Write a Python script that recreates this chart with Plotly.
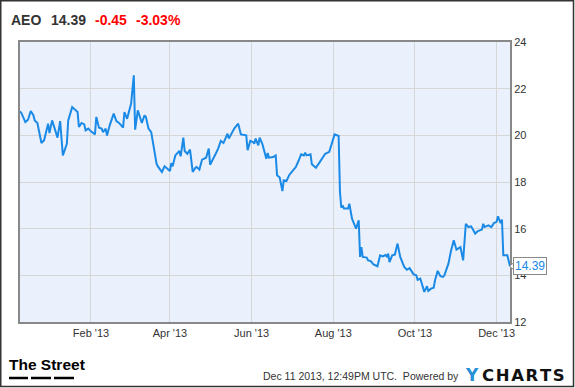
import plotly.graph_objects as go

# ---------------- data ----------------
dates = [
    "2012-12-10", "2012-12-11", "2012-12-14", "2012-12-16", "2012-12-18", "2012-12-20", "2012-12-21",
    "2012-12-23", "2012-12-26", "2012-12-28", "2012-12-31", "2013-01-01", "2013-01-03", "2013-01-05",
    "2013-01-07", "2013-01-09", "2013-01-11", "2013-01-14", "2013-01-15", "2013-01-18", "2013-01-22",
    "2013-01-23", "2013-01-25", "2013-01-27", "2013-01-28", "2013-01-30", "2013-02-01", "2013-02-04",
    "2013-02-05", "2013-02-07", "2013-02-09", "2013-02-10", "2013-02-12", "2013-02-13", "2013-02-15",
    "2013-02-18", "2013-02-20", "2013-02-22", "2013-02-25", "2013-02-26", "2013-02-28", "2013-03-03",
    "2013-03-05", "2013-03-06", "2013-03-08", "2013-03-11", "2013-03-13", "2013-03-14", "2013-03-16",
    "2013-03-18", "2013-03-20", "2013-03-22", "2013-03-23", "2013-03-26", "2013-03-28", "2013-03-31",
    "2013-04-01", "2013-04-02", "2013-04-03", "2013-04-05", "2013-04-08", "2013-04-09", "2013-04-11",
    "2013-04-12", "2013-04-14", "2013-04-16", "2013-04-18", "2013-04-20", "2013-04-21", "2013-04-23",
    "2013-04-25", "2013-04-28", "2013-04-30", "2013-05-01", "2013-05-03", "2013-05-05", "2013-05-07",
    "2013-05-09", "2013-05-11", "2013-05-13", "2013-05-14", "2013-05-15", "2013-05-17", "2013-05-19",
    "2013-05-22", "2013-05-24", "2013-05-28", "2013-05-29", "2013-05-31", "2013-06-02", "2013-06-03",
    "2013-06-04", "2013-06-06", "2013-06-07", "2013-06-09", "2013-06-12", "2013-06-13", "2013-06-14",
    "2013-06-17", "2013-06-19", "2013-06-20", "2013-06-22", "2013-06-24", "2013-06-25", "2013-06-27",
    "2013-06-29", "2013-07-01", "2013-07-04", "2013-07-06", "2013-07-08", "2013-07-10", "2013-07-11",
    "2013-07-12", "2013-07-15", "2013-07-16", "2013-07-19", "2013-07-22", "2013-07-26", "2013-07-29",
    "2013-07-31", "2013-08-02", "2013-08-05", "2013-08-06", "2013-08-07", "2013-08-08", "2013-08-09",
    "2013-08-12", "2013-08-13", "2013-08-15", "2013-08-17", "2013-08-18", "2013-08-20", "2013-08-21",
    "2013-08-22", "2013-08-23", "2013-08-26", "2013-08-27", "2013-08-29", "2013-08-31", "2013-09-03",
    "2013-09-05", "2013-09-07", "2013-09-09", "2013-09-10", "2013-09-11", "2013-09-12", "2013-09-14",
    "2013-09-16", "2013-09-18", "2013-09-20", "2013-09-23", "2013-09-25", "2013-09-27", "2013-09-30",
    "2013-10-02", "2013-10-03", "2013-10-05", "2013-10-06", "2013-10-08", "2013-10-10", "2013-10-11",
    "2013-10-13", "2013-10-15", "2013-10-16", "2013-10-18", "2013-10-20", "2013-10-22", "2013-10-23",
    "2013-10-26", "2013-10-28", "2013-10-30", "2013-11-01", "2013-11-04", "2013-11-06", "2013-11-08",
    "2013-11-10", "2013-11-12", "2013-11-15", "2013-11-17", "2013-11-20", "2013-11-21", "2013-11-22",
    "2013-11-25", "2013-11-27", "2013-11-29", "2013-12-01", "2013-12-02", "2013-12-04", "2013-12-05",
    "2013-12-06", "2013-12-09", "2013-12-11",
]
prices = [
    21.03, 20.96, 20.57, 20.67, 21.04, 20.86, 20.64,
    20.53, 19.67, 19.79, 20.50, 20.10, 20.64, 20.29,
    19.90, 20.61, 19.14, 19.64, 20.64, 21.21, 21.00,
    20.36, 20.53, 20.47, 20.21, 20.29, 20.17, 20.04,
    20.79, 20.33, 20.29, 20.14, 20.29, 19.99, 20.43,
    20.93, 20.61, 20.53, 20.33, 21.00, 20.71, 21.36,
    22.57, 20.24, 21.07, 20.53, 20.86, 20.79, 20.29,
    20.14, 19.43, 18.79, 18.67, 18.43, 18.67, 18.53,
    18.47, 18.81, 18.67, 19.14, 19.33, 19.10, 19.90,
    19.33, 19.21, 19.39, 18.43, 18.61, 18.64, 18.53,
    18.96, 19.04, 19.43, 18.74, 19.00, 19.19, 19.43,
    19.76, 19.67, 19.93, 20.07, 19.86, 20.10, 20.29,
    20.50, 20.04, 20.00, 19.36, 19.76, 19.71, 19.64,
    19.86, 19.57, 19.90, 19.64, 19.00, 19.24, 19.04,
    19.07, 19.14, 18.29, 18.19, 17.61, 18.07, 18.04,
    18.29, 18.43, 18.64, 18.90, 19.19, 19.14, 19.26,
    19.14, 19.19, 18.76, 18.61, 18.86, 19.21, 19.29,
    19.64, 20.04, 19.97, 17.57, 16.90, 17.00, 16.86,
    16.86, 17.07, 16.43, 16.14, 16.00, 16.36, 14.79,
    15.21, 14.79, 14.76, 14.64, 14.61, 14.47, 14.39,
    14.86, 14.81, 14.87, 14.81, 14.93, 14.57, 14.86,
    14.89, 15.36, 14.79, 14.36, 14.24, 14.31, 14.04,
    14.00, 13.81, 13.86, 13.67, 13.29, 13.53, 13.33,
    13.43, 13.47, 13.79, 14.19, 13.96, 13.93, 14.00,
    14.50, 15.07, 15.50, 15.10, 15.21, 14.64, 16.21,
    16.07, 16.10, 15.79, 15.90, 15.96, 16.21, 16.07,
    16.14, 16.07, 16.24, 16.29, 16.53, 16.24, 16.39,
    14.86, 14.86, 14.39,
]

x_tick_vals = ["2013-02-01", "2013-04-01", "2013-06-01", "2013-08-01", "2013-10-01", "2013-12-01"]
x_tick_text = ["Feb '13", "Apr '13", "Jun '13", "Aug '13", "Oct '13", "Dec '13"]
y_tick_vals = [12, 14, 16, 18, 20, 22, 24]

ticker = "AEO"
last_price = "14.39"
change = "-0.45"
change_pct = "-3.03%"
timestamp = "Dec 11 2013, 12:49PM UTC.  Powered by"
brand_left = "The Street"
brand_y = "Y"
brand_rest = "CHARTS"

# ---------------- layout helpers ----------------
W, H = 575, 388
ML, MR, MT, MB = 20, 65, 42, 66
PW, PH = W - ML - MR, H - MT - MB


def px(xp):
    return (xp - ML) / PW


def py(yp):
    return (H - MB - yp) / PH


FONT = "Liberation Sans, Arial, Helvetica, sans-serif"
LINE_BLUE = "#1a8ae6"
last_val = float(prices[-1])

fig = go.Figure()
fig.add_trace(go.Scatter(
    x=dates, y=prices, mode="lines",
    line=dict(color=LINE_BLUE, width=2),
    hoverinfo="skip", showlegend=False,
))

annotations = [
    dict(text="<b>" + ticker + "</b>", x=px(9), y=py(20), xanchor="left", yanchor="middle",
         font=dict(size=14, color="#333333", family=FONT)),
    dict(text="<b>" + last_price + "</b>", x=px(49), y=py(20), xanchor="left", yanchor="middle",
         font=dict(size=14, color="#333333", family=FONT)),
    dict(text="<b>" + change + "</b>", x=px(93), y=py(20), xanchor="left", yanchor="middle",
         font=dict(size=14, color="#ff0000", family=FONT)),
    dict(text="<b>" + change_pct + "</b>", x=px(134), y=py(20), xanchor="left", yanchor="middle",
         font=dict(size=14, color="#ff0000", family=FONT)),
    # last value label
    dict(text=last_price, x=px(513), y=last_val, yref="y", xanchor="left", yanchor="middle",
         font=dict(size=12, color=LINE_BLUE, family=FONT), bgcolor="#ffffff",
         bordercolor="#888888", borderwidth=1, borderpad=1),
    # footer
    dict(text="<b>" + brand_left + "</b>", x=px(7), y=py(364), xanchor="left", yanchor="middle",
         font=dict(size=15.5, color="#000000", family=FONT)),
    dict(text=timestamp, x=px(261), y=py(376), xanchor="left", yanchor="middle",
         font=dict(size=10.5, color="#333333", family=FONT)),
    dict(text="<b>" + brand_y + "</b>", x=px(463), y=py(375), xanchor="left", yanchor="middle",
         font=dict(size=17, color="#2590d8", family="DejaVu Sans, Arial, sans-serif")),
    dict(text="<b>" + "\u200a".join(brand_rest) + "</b>", x=px(480), y=py(375), xanchor="left", yanchor="middle",
         font=dict(size=16.5, color="#111111", family="DejaVu Sans, Arial, sans-serif")),
]
for a in annotations:
    a.setdefault("xref", "paper")
    a.setdefault("yref", "paper")
    a["showarrow"] = False

tri_half = 0.16
shapes = [
    # outer frame
    dict(type="rect", xref="paper", yref="paper", x0=px(0.75), x1=px(573.5), y0=py(386.5), y1=py(0.75),
         line=dict(color="#333333", width=1.5), fillcolor="rgba(0,0,0,0)", layer="above"),
    # The Street underline dashes
    dict(type="line", xref="paper", yref="paper", x0=px(9), x1=px(28), y0=py(378), y1=py(378),
         line=dict(color="#000000", width=2.5)),
    dict(type="line", xref="paper", yref="paper", x0=px(31), x1=px(51), y0=py(378), y1=py(378),
         line=dict(color="#000000", width=2.5)),
    dict(type="line", xref="paper", yref="paper", x0=px(54), x1=px(74), y0=py(378), y1=py(378),
         line=dict(color="#000000", width=2.5)),
    # pointer of the last-value label
    dict(type="path", xref="paper", yref="y",
         path=f"M {px(509.5)},{last_val} L {px(514)},{last_val + tri_half} L {px(514)},{last_val - tri_half} Z",
         line=dict(color="#888888", width=1), fillcolor="#ffffff", layer="above"),
]

fig.update_layout(
    width=W, height=H,
    margin=dict(l=ML, r=MR, t=MT, b=MB, pad=0),
    paper_bgcolor="#ffffff",
    plot_bgcolor="#eaf1fd",
    font=dict(family=FONT, color="#333333"),
    annotations=annotations,
    shapes=shapes,
    xaxis=dict(
        type="date", range=["2012-12-10", "2013-12-11"],
        tickmode="array", tickvals=x_tick_vals, ticktext=x_tick_text,
        tickfont=dict(size=11, color="#333333", family=FONT),
        showgrid=True, gridcolor="#d6d6d6", gridwidth=1,
        showline=True, linecolor="#888888", linewidth=2, mirror=True,
        ticks="", zeroline=False, fixedrange=True,
    ),
    yaxis=dict(
        side="right", range=[12, 24],
        tickmode="array", tickvals=y_tick_vals,
        tickfont=dict(size=11, color="#333333", family=FONT),
        showgrid=True, gridcolor="#d6d6d6", gridwidth=1,
        showline=True, linecolor="#888888", linewidth=2, mirror=True,
        ticks="", zeroline=False, fixedrange=True,
    ),
)

fig.write_html("out.html", config={"displayModeBar": False})
